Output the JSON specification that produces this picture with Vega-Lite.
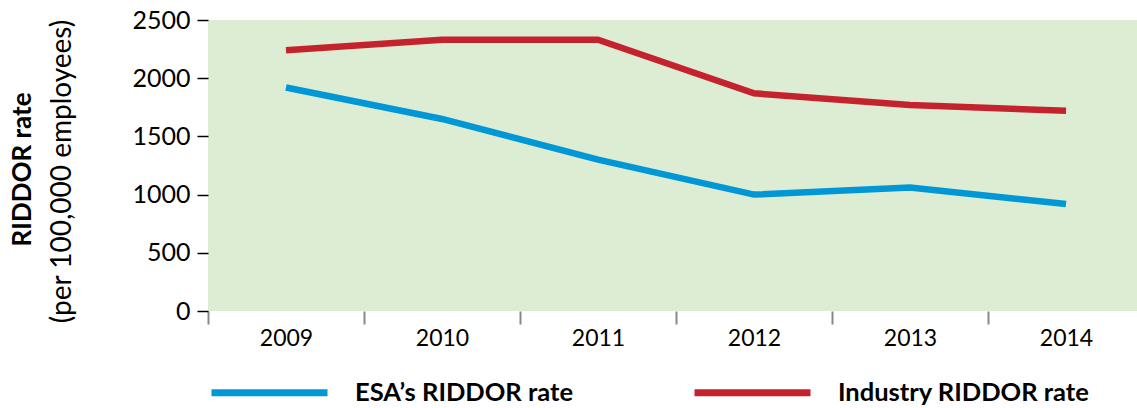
{
  "$schema": "https://vega.github.io/schema/vega-lite/v6.json",
  "width": 929,
  "height": 291,
  "autosize": {"type": "none"},
  "padding": {"left": 208, "top": 20, "right": 0, "bottom": 97},
  "background": "white",
  "config": {
    "view": {"fill": "#ddedd4", "stroke": null},
    "font": "Lato",
    "axis": {"grid": false, "labelFont": "Lato", "titleFont": "Lato", "labelColor": "black", "titleColor": "black"},
    "legend": {"labelFont": "Lato"}
  },
  "data": {
    "values": [
      {"year": "2009", "series": "ESA’s RIDDOR rate", "rate": 1920},
      {"year": "2010", "series": "ESA’s RIDDOR rate", "rate": 1650},
      {"year": "2011", "series": "ESA’s RIDDOR rate", "rate": 1300},
      {"year": "2012", "series": "ESA’s RIDDOR rate", "rate": 1000},
      {"year": "2013", "series": "ESA’s RIDDOR rate", "rate": 1060},
      {"year": "2014", "series": "ESA’s RIDDOR rate", "rate": 920},
      {"year": "2009", "series": "Industry RIDDOR rate", "rate": 2240},
      {"year": "2010", "series": "Industry RIDDOR rate", "rate": 2330},
      {"year": "2011", "series": "Industry RIDDOR rate", "rate": 2330},
      {"year": "2012", "series": "Industry RIDDOR rate", "rate": 1870},
      {"year": "2013", "series": "Industry RIDDOR rate", "rate": 1770},
      {"year": "2014", "series": "Industry RIDDOR rate", "rate": 1720}
    ]
  },
  "encoding": {
    "x": {
      "field": "year",
      "type": "ordinal",
      "bandPosition": 0.5,
      "scale": {"type": "band", "range": [0, 936], "paddingInner": 0, "paddingOuter": 0},
      "axis": {
        "title": null,
        "labelAngle": 0,
        "domain": false,
        "tickBand": "extent",
        "tickColor": "#888888",
        "tickWidth": 2,
        "tickSize": 13,
        "labelPadding": 3,
        "labelFontSize": 23
      }
    },
    "color": {
      "field": "series",
      "type": "nominal",
      "scale": {"domain": ["ESA’s RIDDOR rate", "Industry RIDDOR rate"], "range": ["#0097d6", "#c4232e"]},
      "legend": {
        "orient": "none",
        "legendX": 0,
        "legendY": 311,
        "direction": "horizontal",
        "title": null,
        "symbolType": "stroke",
        "symbolSize": 13456,
        "symbolStrokeWidth": 7,
        "labelFontSize": 25.5,
        "labelFontWeight": "bold",
        "labelColor": "black",
        "labelLimit": 0,
        "labelOffset": 24,
        "columnPadding": 106,
        "padding": 0
      }
    }
  },
  "layer": [
    {
      "transform": [{"filter": {"field": "series", "equal": "ESA’s RIDDOR rate"}}],
      "mark": {"type": "line", "strokeWidth": 6.5},
      "encoding": {
        "y": {
          "field": "rate",
          "type": "quantitative",
          "scale": {"domain": [0, 2500], "nice": false},
          "axis": {
            "orient": "left",
            "values": [0, 500, 1000, 1500, 2000, 2500],
            "format": "d",
            "domain": false,
            "tickColor": "black",
            "tickWidth": 1.5,
            "tickSize": 11,
            "labelPadding": 7,
            "labelFontSize": 25,
            "title": "(per 100,000 employees)",
            "titleFontSize": 28,
            "titleFontWeight": "normal",
            "titleX": -146,
            "titleY": 151,
            "titleAngle": -90,
            "titleBaseline": "middle",
            "titleAlign": "center"
          }
        }
      }
    },
    {
      "transform": [{"filter": {"field": "series", "equal": "Industry RIDDOR rate"}}],
      "mark": {"type": "line", "strokeWidth": 6.5},
      "encoding": {
        "y": {
          "field": "rate",
          "type": "quantitative",
          "scale": {"domain": [0, 2500], "nice": false},
          "axis": {
            "orient": "left",
            "labels": false,
            "ticks": false,
            "domain": false,
            "title": "RIDDOR rate",
            "titleFontSize": 26,
            "titleFontWeight": "bold",
            "titleX": -186,
            "titleY": 149,
            "titleAngle": -90,
            "titleBaseline": "middle",
            "titleAlign": "center"
          }
        }
      }
    }
  ],
  "resolve": {"axis": {"y": "independent"}}
}
